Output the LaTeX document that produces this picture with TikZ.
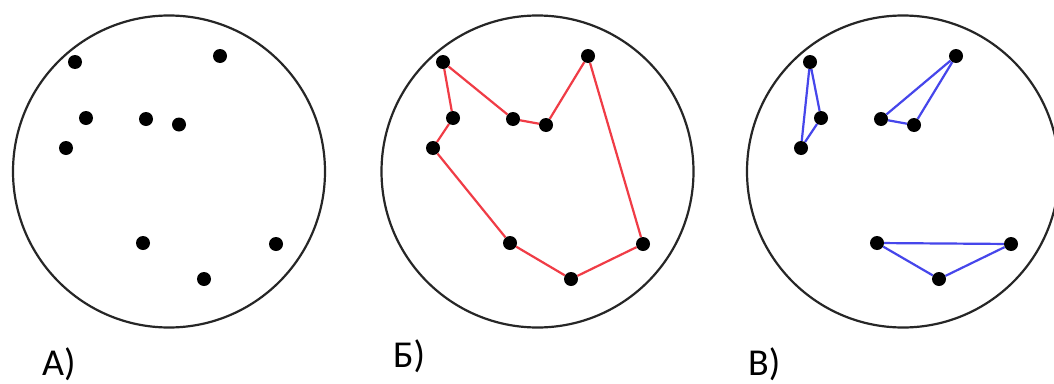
\documentclass[tikz,border=0pt]{standalone}
\usepackage{fontspec}
\setmainfont{Carlito}
\begin{document}
\begin{tikzpicture}[x=1pt,y=-1pt,
  dot/.style={circle,fill=black,inner sep=0pt,minimum size=14pt},
  ring/.style={circle,draw=black!85,line width=2.2pt,inner sep=0pt,minimum size=312pt},
  redline/.style={draw={rgb,255:red,240;green,60;blue,70},line width=2.2pt},
  blueline/.style={draw={rgb,255:red,70;green,70;blue,235},line width=2.2pt},
  lbl/.style={anchor=base west,inner sep=0pt,font=\fontsize{38}{40}\selectfont}]
\useasboundingbox (0,0) rectangle (1054,383);
\clip (0,0) rectangle (1054,383);
\fill[white] (0,0) rectangle (1054,383);
% circles
\node[ring] (cA) at (169,171.5) {};
\node[ring] (cB) at (537.5,171.5) {};
\node[ring] (cC) at (903,171.5) {};
% A points
\node[dot] (a1) at (75,62) {};
\node[dot] (a2) at (86,118) {};
\node[dot] (a3) at (66,148) {};
\node[dot] (a4) at (146,119) {};
\node[dot] (a5) at (179,124.5) {};
\node[dot] (a6) at (220,56) {};
\node[dot] (a7) at (143,243) {};
\node[dot] (a8) at (276,244) {};
\node[dot] (a9) at (204,279) {};
% B points
\node[dot] (b1) at (443,62) {};
\node[dot] (b2) at (453,118) {};
\node[dot] (b3) at (433,148) {};
\node[dot] (b4) at (513,119) {};
\node[dot] (b5) at (546,125) {};
\node[dot] (b6) at (588,56) {};
\node[dot] (b7) at (510,243) {};
\node[dot] (b8) at (643,244) {};
\node[dot] (b9) at (571,279) {};
\draw[redline] (b1) -- (b2) -- (b3) -- (b7) -- (b9) -- (b8) -- (b6) -- (b5) -- (b4) -- (b1);
% C points
\node[dot] (c1) at (810,62) {};
\node[dot] (c2) at (821,118) {};
\node[dot] (c3) at (801,148) {};
\node[dot] (c4) at (881,119) {};
\node[dot] (c5) at (914,125) {};
\node[dot] (c6) at (956,56) {};
\node[dot] (c7) at (877,243) {};
\node[dot] (c8) at (1011,244) {};
\node[dot] (c9) at (939,279) {};
\draw[blueline] (c1) -- (c2) -- (c3) -- (c1);
\draw[blueline] (c6) -- (c4) -- (c5) -- (c6);
\draw[blueline] (c7) -- (c8) -- (c9) -- (c7);
% labels
\node[lbl] (lA) at (42,375) {А)};
\node[lbl] (lB) at (393,367) {Б)};
\node[lbl] (lC) at (748,375) {В)};
\end{tikzpicture}
\end{document}
